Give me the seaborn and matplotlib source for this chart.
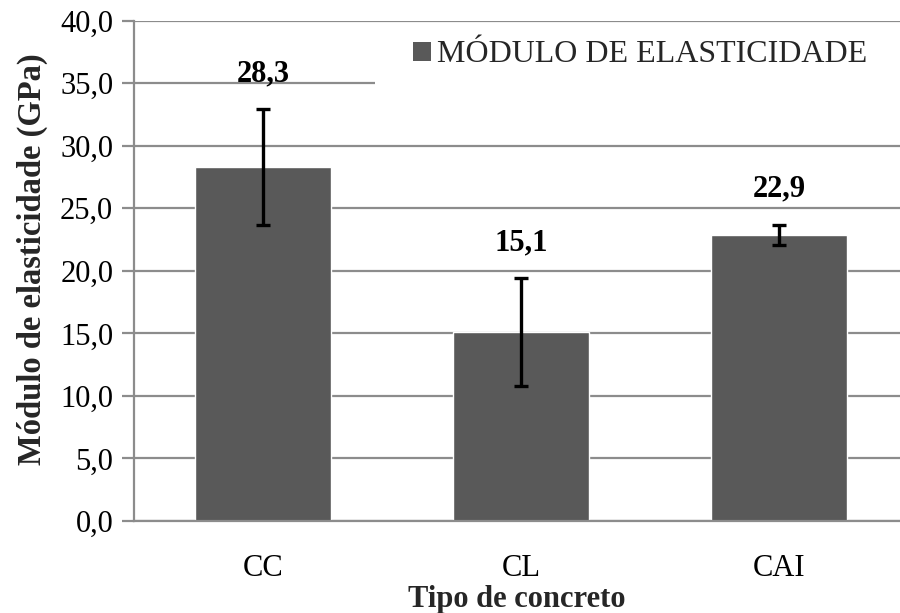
import matplotlib
matplotlib.use("Agg")
import matplotlib.pyplot as plt
import seaborn as sns
import pandas as pd
import numpy as np
from matplotlib.patches import Patch, Rectangle

categories = ["CC", "CL", "CAI"]
values = [28.3, 15.1, 22.9]
errors = [4.65, 4.3, 0.8]
value_labels = ["28,3", "15,1", "22,9"]
yticks = [0, 5, 10, 15, 20, 25, 30, 35, 40]
ytick_labels = ["0,0", "5,0", "10,0", "15,0", "20,0", "25,0", "30,0", "35,0", "40,0"]
legend_label = "MÓDULO DE ELASTICIDADE"

sns.set_theme(style="white")
plt.rcParams["font.family"] = ["Liberation Serif", "DejaVu Serif"]

bar_color = "#595959"
grid_color = "#8c8c8c"

df = pd.DataFrame({"tipo": categories, "modulo": values})

fig = plt.figure(figsize=(9, 6.13), dpi=100)
ax = fig.add_axes([134 / 900, 1 - 521 / 613, 1 - 134 / 900, (521 - 20.7) / 613])

sns.barplot(data=df, x="tipo", y="modulo", color=bar_color, width=0.53,
            saturation=1, ax=ax, zorder=2)
ax.errorbar(x=np.arange(len(values)), y=values, yerr=errors, fmt="none",
            ecolor="black", elinewidth=2.4, capsize=5, capthick=2.4, zorder=3)

for i, (v, e, lab) in enumerate(zip(values, errors, value_labels)):
    ax.annotate(lab, xy=(i, v + e), xytext=(0, 15), textcoords="offset points",
                ha="center", va="bottom", fontsize=22, fontweight="bold", color="black")

ax.set_ylim(0, 40)
ax.set_xlim(-0.5, -0.5 + (900 - 134) / 258)
ax.set_yticks(yticks)
ax.set_yticklabels(ytick_labels)
ax.yaxis.grid(True, color=grid_color, linewidth=1.6)
ax.set_axisbelow(True)

ax.set_xticks(np.arange(len(categories)))
ax.set_xticklabels(categories)
ax.set_xticks([-0.5, 1.5], minor=True)
ax.tick_params(axis="x", which="major", length=0, pad=24, labelsize=22, colors="black")
ax.tick_params(axis="x", which="minor", length=9, width=1.6, color=grid_color, direction="out")
ax.tick_params(axis="y", length=9, width=1.6, color=grid_color, direction="out",
               pad=6, labelsize=22, labelcolor="black", left=True)

for s in ["top", "right"]:
    ax.spines[s].set_visible(False)
for s in ["left", "bottom"]:
    ax.spines[s].set_color(grid_color)
    ax.spines[s].set_linewidth(1.6)

ax.set_xlabel("Tipo de concreto", fontsize=22, fontweight="bold")
ax.xaxis.set_label_coords(0.5, -(585 - 521) / 500.3)
ax.set_ylabel("Módulo de elasticidade (GPa)", fontsize=23.5, fontweight="bold")
ax.yaxis.set_label_coords(-(134 - 48) / 766, (521 - 259) / 500.3)

# white background block behind the legend (covers gridline as in original)
ax.add_patch(Rectangle((375 / 900, 1 - 100 / 613), 525 / 900, (100 - 22.5) / 613,
                       transform=fig.transFigure, facecolor="white", edgecolor="none",
                       zorder=1, clip_on=False))

handle = Patch(facecolor=bar_color, edgecolor="none")
leg = ax.legend([handle], [legend_label], loc="center left",
                bbox_to_anchor=(413 / 900, 1 - 55 / 613), bbox_transform=fig.transFigure,
                frameon=False, fontsize=23, handlelength=0.55, handleheight=0.55,
                handletextpad=0.2, borderpad=0, borderaxespad=0)
leg.set_zorder(5)

fig.savefig("out.png", dpi=100)
